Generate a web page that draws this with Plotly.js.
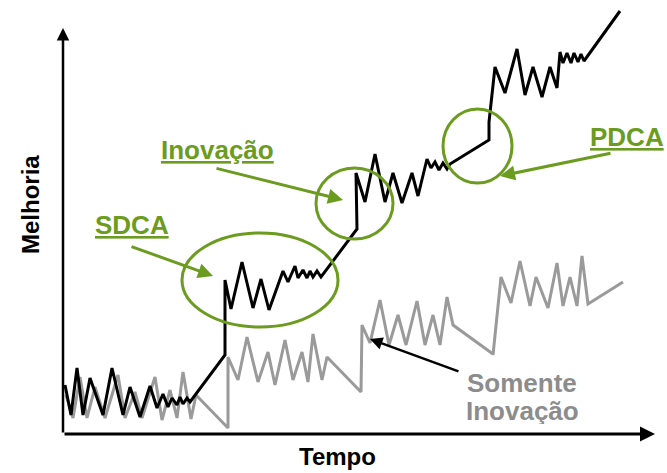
<!DOCTYPE html>
<html>
<head>
<meta charset="utf-8">
<script src="https://cdn.plot.ly/plotly-3.0.1.min.js"></script>
<style>html,body{margin:0;padding:0;background:#fff}#chart{width:667px;height:473px}</style>
</head>
<body>
<div id="chart"></div>
<script>
// Conceptual curve: "Melhoria" (improvement) over "Tempo" (time)
// Black: SDCA + Inovação (PDCA) combined
var tempoComb = [2,8,14,20,27,40,49,60,67,77,87,94,100,105,109,114,117,120,124,127,
  162,162,168,179,190,198,206,220,225,232,235,240,244,247,250,254,258,
  294,293,302,312,322,330,339,349,355,364,368,372,376,380,384,387,
  426,426,432,442,454,462,470,479,487,494,497,500,504,508,511,515,518,521,557];
var melhoriaComb = [49,19,66,19,56,19,66,19,47,17,48,26,40,27,36,29,37,30,36,32,
  79,154,125,172,126,155,124,163,152,168,156,164,156,163,157,163,157,
  205,261,232,280,232,261,231,261,238,275,266,272,264,271,265,270,
  294,312,367,341,385,339,367,337,367,346,382,371,381,371,381,372,380,373,423];
// Gray: "Somente Inovação" (innovation only)
var tempoInov = [3,10,17,24,32,42,55,62,72,79,92,99,107,114,120,128,133,
  165,165,175,184,195,205,212,222,230,239,245,250,259,264,
  298,299,307,317,326,335,343,354,362,370,377,384,390,430,
  430,438,448,457,467,473,485,494,500,507,514,519,525,560];
var melhoriaInov = [39,16,57,16,47,16,59,16,42,16,57,14,44,16,62,15,39,
  6,77,54,97,52,82,49,94,54,82,52,100,54,77,
  42,109,91,134,89,119,89,133,89,119,89,137,109,80,
  79,157,131,173,128,157,126,171,128,157,128,178,130,152,118];

var green = '#6b9c20';
var grayC = '#9a9a9a';
var sans = 'Liberation Sans, Arial, sans-serif';

var traces = [
  {x: tempoInov, y: melhoriaInov, mode: 'lines', line: {color: grayC, width: 3}, hoverinfo: 'skip', name: 'Somente Inovação'},
  {x: tempoComb, y: melhoriaComb, mode: 'lines', line: {color: '#000', width: 3}, hoverinfo: 'skip', name: 'SDCA + Inovação'}
];

function ell(x0, x1, y0, y1) {
  return {type: 'circle', xref: 'x', yref: 'y', x0: x0, x1: x1, y0: y0, y1: y1,
    line: {color: green, width: 3}, fillcolor: 'rgba(0,0,0,0)'};
}
function arrow(x0, y0, x1, y1, color, w) {
  return {x: x1, y: y1, ax: x0, ay: y0, xref: 'x', yref: 'y', axref: 'x', ayref: 'y',
    text: '', showarrow: true, arrowhead: 2, arrowsize: 1, arrowwidth: w, arrowcolor: color};
}
function label(txt, x, y, size, color, ref, angle, h) {
  var a = {x: x, y: y, xref: ref, yref: ref === 'x' ? 'y' : 'paper', text: txt, showarrow: false,
    font: {size: size, color: color, family: sans}, textangle: angle || 0,
    xanchor: 'center', yanchor: 'middle'};
  if (h) { a.height = h; a.borderpad = 0; }
  return a;
}

var layout = {
  width: 667, height: 473,
  margin: {l: 63, r: 12, t: 4, b: 39},
  paper_bgcolor: '#fff', plot_bgcolor: '#fff',
  showlegend: false,
  xaxis: {range: [0, 592], showgrid: false, zeroline: false, showline: false, showticklabels: false, ticks: '', fixedrange: true},
  yaxis: {range: [0, 430], showgrid: false, zeroline: false, showline: false, showticklabels: false, ticks: '', fixedrange: true},
  shapes: [
    ell(119, 275, 107, 201),
    ell(253, 330, 195, 266),
    ell(380, 449, 251, 325)
  ],
  annotations: [
    arrow(0, 0, 592, 0, '#000', 3),
    arrow(0, 0, 0, 406, '#000', 2.5),
    arrow(67, 188, 150, 158, green, 3),
    arrow(152, 266, 280, 234, green, 3),
    arrow(549, 281, 437, 258, green, 3),
    arrow(397, 62, 307, 95, '#000', 2.5),
    label('<b><u>SDCA</u></b>', 69, 209, 26, green, 'x'),
    label('<b><u>Inovação</u></b>', 154, 284, 26, green, 'x'),
    label('<b><u>PDCA</u></b>', 564, 297, 26, green, 'x'),
    label('<b>Somente</b>', 459, 51, 26, '#8c8c8c', 'x', 0, 26),
    label('<b>Inovação</b>', 459, 24, 26, '#8c8c8c', 'x', 0, 27),
    label('<b>Tempo</b>', 0.463, -22 / 430, 24, '#000', 'paper'),
    label('<b>Melhoria</b>', -33 / 592, 229 / 430, 24, '#000', 'paper', -90)
  ]
};

Plotly.newPlot('chart', traces, layout, {displayModeBar: false, staticPlot: true});
</script>
</body>
</html>
